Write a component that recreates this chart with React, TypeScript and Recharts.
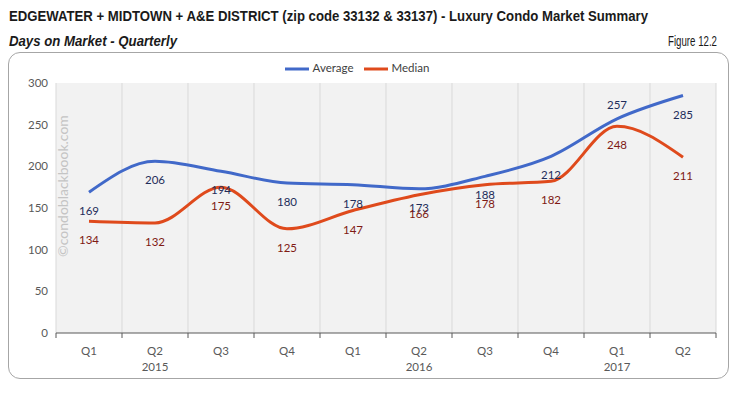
import React from "react"
import {
  LineChart,
  Line,
  XAxis,
  YAxis,
  CartesianGrid,
  Legend,
  LabelList,
} from "recharts"

const quarters = ["Q1", "Q2", "Q3", "Q4", "Q1", "Q2", "Q3", "Q4", "Q1", "Q2"]
const years = ["", "2015", "", "", "", "2016", "", "", "2017", ""]
const average = [169, 206, 194, 180, 178, 173, 188, 212, 257, 285]
const median = [134, 132, 175, 125, 147, 166, 178, 182, 248, 211]
const yTicks = [0, 50, 100, 150, 200, 250, 300]
// where each data label sits relative to its point
const avgLabelSide = ["below", "below", "below", "below", "below", "below", "below", "below", "above", "below"]
const medLabelSide = ["below", "below", "below", "below", "below", "below", "below", "below", "below", "below"]

const data = quarters.map((q, i) => ({
  quarter: q,
  average: average[i],
  median: median[i],
}))

const font = "Lato, 'Open Sans', sans-serif"
const headFont = "'Liberation Sans', Arial, sans-serif"

const PLOT_W = 660
const HALF = PLOT_W / quarters.length / 2

// tick label with year row + tick marks on category boundaries
function QuarterTick(props: any) {
  const { x, y, payload, index } = props
  const year = years[index]
  const axisY = y - 8
  return (
    <g>
      <line x1={x - HALF} x2={x - HALF} y1={axisY} y2={axisY + 5} stroke="#595959" />
      {index === quarters.length - 1 ? (
        <line x1={x + HALF} x2={x + HALF} y1={axisY} y2={axisY + 5} stroke="#595959" />
      ) : null}
      <text x={x} y={y + 14} textAnchor="middle" fill="#595959" fontSize={11.5} fontFamily={font}>
        {payload.value}
      </text>
      {year ? (
        <text x={x} y={y + 30} textAnchor="middle" fill="#595959" fontSize={11.5} fontFamily={font}>
          {year}
        </text>
      ) : null}
    </g>
  )
}

function makeLabel(sides: string[], color: string) {
  return (props: any) => {
    const { x, y, value, index } = props
    const above = sides[index] === "above"
    return (
      <text
        x={x}
        y={above ? y - 10 : y + 23}
        textAnchor="middle"
        fill={color}
        fontSize={11.5}
        fontFamily={font}
      >
        {value}
      </text>
    )
  }
}

export default function App() {
  return (
    <div
      style={{
        position: "absolute",
        left: 0,
        top: 0,
        width: 734,
        height: 393,
        background: "#fff",
      }}
    >
      <svg width={734} height={50} style={{ position: "absolute", left: 0, top: 0 }}>
        <text
          x={9}
          y={21}
          fontSize={15}
          fontWeight="bold"
          fill="#1a1a1a"
          fontFamily={headFont}
          textLength={639}
          lengthAdjust="spacingAndGlyphs"
        >
          EDGEWATER + MIDTOWN + A&amp;E DISTRICT (zip code 33132 &amp; 33137) - Luxury Condo Market Summary
        </text>
        <text
          x={9}
          y={46}
          fontSize={14}
          fontWeight="bold"
          fontStyle="italic"
          fill="#1a1a1a"
          fontFamily={headFont}
          textLength={168}
          lengthAdjust="spacingAndGlyphs"
        >
          Days on Market - Quarterly
        </text>
        <text
          x={668}
          y={46}
          fontSize={15}
          fill="#1a1a1a"
          fontFamily={headFont}
          textLength={49}
          lengthAdjust="spacingAndGlyphs"
        >
          Figure 12.2
        </text>
      </svg>
      <div
        style={{
          position: "absolute",
          left: 8,
          top: 52,
          width: 719,
          height: 325,
          border: "1px solid #a6a6a6",
          borderRadius: 12,
        }}
      />
      <div style={{ position: "absolute", left: 8, top: 52 }}>
        <LineChart
          width={720}
          height={326}
          data={data}
          margin={{ top: 3, right: 12, bottom: 0, left: 0 }}
        >
          <CartesianGrid
            horizontal={false}
            stroke="#d9d9d9"
            fill="#f2f2f2"
            verticalCoordinatesGenerator={({ offset }: any) =>
              quarters
                .map((_, i) => offset.left + (i * offset.width) / quarters.length)
                .concat(offset.left + offset.width)
            }
          />
          <XAxis
            dataKey="quarter"
            padding={{ left: HALF, right: HALF }}
            height={45}
            axisLine={{ stroke: "#595959" }}
            tickLine={false}
            interval={0}
            tick={<QuarterTick />}
          />
          <YAxis
            domain={[0, 300]}
            ticks={yTicks}
            width={48}
            axisLine={false}
            tickLine={false}
            tick={{ fontSize: 11.5, fill: "#595959", fontFamily: font }}
          />
          <Legend
            verticalAlign="top"
            align="center"
            iconType="plainline"
            iconSize={24}
            wrapperStyle={{ fontSize: 11.5, fontFamily: font, paddingBottom: 4, top: 5 }}
            formatter={(value) => <span style={{ color: "#404040" }}>{value}</span>}
          />
          <Line
            type="monotone"
            dataKey="average"
            name="Average"
            stroke="#4169c9"
            strokeWidth={3}
            dot={false}
            isAnimationActive={false}
          >
            <LabelList dataKey="average" content={makeLabel(avgLabelSide, "#1f2d5a")} />
          </Line>
          <Line
            type="monotone"
            dataKey="median"
            name="Median"
            stroke="#df4a1c"
            strokeWidth={3}
            dot={false}
            isAnimationActive={false}
          >
            <LabelList dataKey="median" content={makeLabel(medLabelSide, "#7f1a14")} />
          </Line>
        </LineChart>
      </div>
      <div
        style={{
          position: "absolute",
          left: 62,
          top: 186,
          transform: "translate(-50%, -50%) rotate(-90deg)",
          fontSize: 14,
          color: "#c4c4c4",
          fontFamily: "Lato, sans-serif",
          whiteSpace: "nowrap",
        }}
      >
        ©condoblackbook.com
      </div>
    </div>
  )
}
